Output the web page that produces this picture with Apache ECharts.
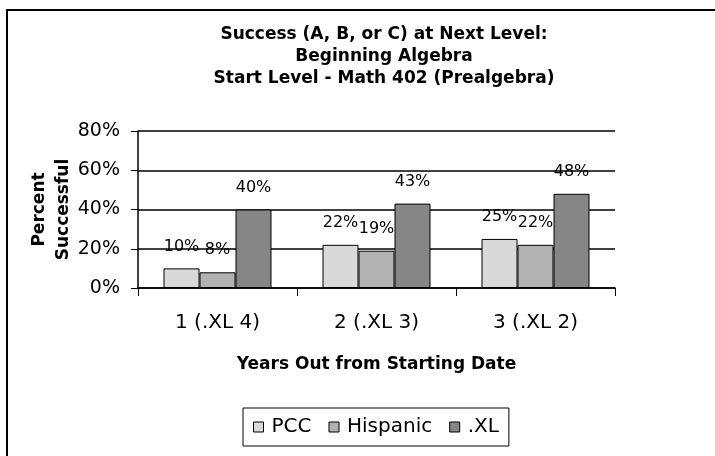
<!DOCTYPE html>
<html>
<head>
<meta charset="utf-8">
<script src="https://cdn.jsdelivr.net/npm/echarts@6/dist/echarts.min.js"></script>
<style>
  html, body { margin: 0; padding: 0; background: #fff; }
  #chart { width: 715px; height: 456px; }
</style>
</head>
<body>
<div id="chart"></div>
<script>
  // values
  var categories = ['1 (.XL 4)', '2 (.XL 3)', '3 (.XL 2)']
  var pccData = [10, 22, 25]
  var hispanicData = [8, 19, 22]
  var xlData = [40, 43, 48]
  var seriesNames = ['PCC', 'Hispanic', '.XL']
  var seriesColors = ['#d9d9d9', '#b2b2b2', '#868686']

  var chart = echarts.init(document.getElementById('chart'))
  var font = 'DejaVu Sans'

  function barSeries(name, data, color) {
    return {
      name: name,
      type: 'bar',
      data: data,
      barWidth: 36,
      barGap: '0%',
      itemStyle: { color: color, borderColor: '#000', borderWidth: 1 },
      label: {
        show: true,
        position: 'top',
        distance: 14,
        formatter: '{c}%',
        color: '#000',
        fontFamily: font,
        fontSize: 16,
      },
    }
  }

  var option = {
    backgroundColor: '#fff',
    animation: false,
    graphic: [
      {
        type: 'rect',
        shape: { x: 7, y: 10, width: 760, height: 500 },
        style: { fill: 'none', stroke: '#000', lineWidth: 2 },
        z: -1,
      },
    ],
    title: {
      text: 'Success (A, B, or C) at Next Level:\nBeginning Algebra\nStart Level - Math 402 (Prealgebra)',
      left: 379,
      textAlign: 'center',
      top: 19,
      textStyle: {
        fontFamily: font,
        fontWeight: 'bold',
        fontSize: 17,
        lineHeight: 22,
        color: '#000',
      },
    },
    legend: {
      data: seriesNames,
      left: 243,
      top: 408,
      orient: 'horizontal',
      itemWidth: 10,
      itemHeight: 10,
      itemGap: 17,
      padding: [9, 10, 9, 10],
      borderColor: '#000',
      borderWidth: 1,
      icon: 'rect',
      itemStyle: { borderColor: '#000', borderWidth: 1 },
      textStyle: { fontFamily: font, fontSize: 20, color: '#000', padding: [0, 0, 0, 3] },
    },
    grid: { left: 138, right: 100, top: 131, bottom: 168 },
    xAxis: {
      type: 'category',
      data: categories,
      name: 'Years Out from Starting Date',
      nameLocation: 'middle',
      nameGap: 68,
      nameTextStyle: { fontFamily: font, fontWeight: 'bold', fontSize: 17, color: '#000' },
      axisLine: { show: true, lineStyle: { color: '#000', width: 1.5 } },
      axisTick: { show: true, length: 8, alignWithLabel: false, lineStyle: { color: '#000' } },
      axisLabel: { margin: 25, fontFamily: font, fontSize: 20, color: '#000' },
      splitLine: { show: false },
    },
    yAxis: {
      type: 'value',
      min: 0,
      max: 80,
      interval: 20,
      name: 'Percent\nSuccessful',
      nameLocation: 'middle',
      nameRotate: 90,
      nameGap: 62,
      nameMoveOverlap: false,
      nameTextStyle: { fontFamily: font, fontWeight: 'bold', fontSize: 17, lineHeight: 24, color: '#000' },
      axisLine: { show: true, lineStyle: { color: '#000', width: 1.5 } },
      axisTick: { show: true, length: 7, lineStyle: { color: '#000' } },
      axisLabel: { formatter: '{value}%', margin: 18, fontFamily: font, fontSize: 19, color: '#000' },
      splitLine: { show: true, lineStyle: { color: '#000', width: 1.5 } },
    },
    series: [
      barSeries(seriesNames[0], pccData, seriesColors[0]),
      barSeries(seriesNames[1], hispanicData, seriesColors[1]),
      barSeries(seriesNames[2], xlData, seriesColors[2]),
    ],
  }
  chart.setOption(option)
</script>
</body>
</html>
